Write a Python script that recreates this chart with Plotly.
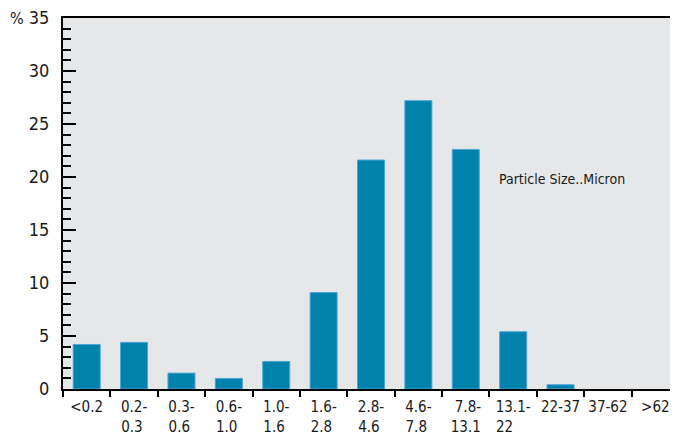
import plotly.graph_objects as go

NB = "\u00a0"
categories = ["<0.2", "0.2-<br>0.3" + NB, "0.3-<br>0.6" + NB, "0.6-<br>1.0" + NB, "1.0-<br>1.6" + NB,
              "1.6-<br>2.8" + NB, "2.8-<br>4.6" + NB, "4.6-<br>7.8" + NB, NB + "7.8-<br>13.1",
              "13.1-<br>22" + NB * 4, "22-37", "37-62", ">62"]
values = [4.2, 4.4, 1.5, 1.0, 2.6, 9.1, 21.6, 27.2, 22.6, 5.4, 0.4, 0, 0]
y_tickvals = [0, 5, 10, 15, 20, 25, 30, 35]
y_ticktext = ["0", "5", "10", "15", "20", "25", "30",
              "<span style='font-size:16px'>%</span> 35"]
annotation_text = "Particle Size..Micron"

FONT = "DejaVu Sans Condensed"

fig = go.Figure(go.Bar(
    x=list(range(len(categories))), y=values,
    marker=dict(color="#0082ad",
                line=dict(color="#4aa6da", width=[1 if v > 0 else 0 for v in values])),
    width=0.57,
))

# page body has an 8px margin; size the figure so it lands like the reference
fig.update_layout(
    width=675, height=426,
    margin=dict(l=55, r=13, t=10, b=45, autoexpand=False),
    paper_bgcolor="white", plot_bgcolor="#e6e7e9",
    showlegend=False,
    font=dict(family=FONT, color="#1a1a1a"),
    annotations=[dict(x=8.66, y=19.8, xref="x", yref="y", text=annotation_text,
                      showarrow=False, xanchor="left", yanchor="middle",
                      font=dict(family=FONT, size=14, color="#1a1a1a"))],
)

fig.update_xaxes(
    range=[-0.5, 12.31], tickmode="array",
    tickvals=list(range(len(categories))), ticktext=categories,
    showgrid=False, zeroline=False,
    showline=True, linecolor="black", linewidth=2, mirror=True,
    ticks="", tickfont=dict(family=FONT, size=15, color="#1a1a1a"),
    ticklabelstandoff=3, ticklabeloverflow="allow",
    minor=dict(tickmode="array", tickvals=[i + 0.5 for i in range(-1, len(categories))],
               ticks="outside", ticklen=6, tickwidth=2, tickcolor="black"),
    automargin=False,
)

fig.update_yaxes(
    range=[0, 35], tickmode="array", tickvals=y_tickvals, ticktext=y_ticktext,
    showgrid=False, zeroline=False,
    showline=True, linecolor="black", linewidth=2,
    ticks="inside", ticklen=13, tickwidth=2, tickcolor="black",
    tickfont=dict(family=FONT, size=18, color="#1a1a1a"),
    ticklabelstandoff=8, ticklabeloverflow="allow",
    minor=dict(dtick=1, ticks="inside", ticklen=8, tickwidth=2, tickcolor="black", showgrid=False),
    automargin=False,
)

fig.write_html("out.html")
